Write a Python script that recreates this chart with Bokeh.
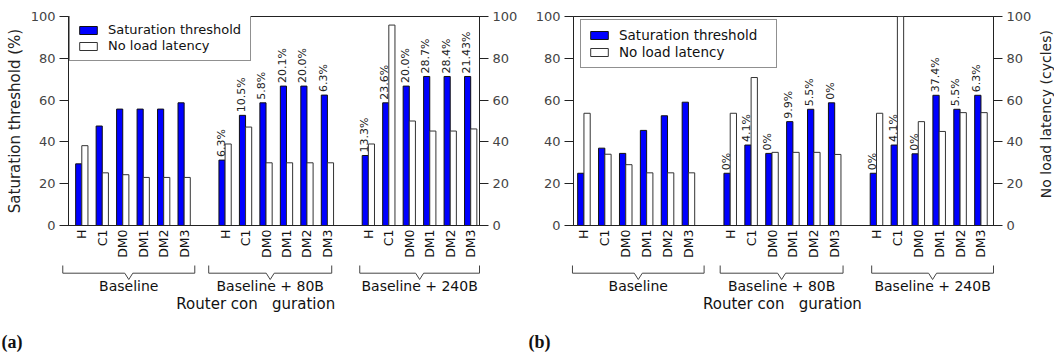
import math
from bokeh.plotting import figure
from bokeh.models import (ColumnDataSource, Range1d, LinearAxis, FixedTicker,
                          Legend, LegendItem)
from bokeh.layouts import row, column
from bokeh.transform import dodge
from bokeh.core.properties import value
from bokeh.embed import file_html
from bokeh.resources import INLINE

# ---------------- data ----------------
configs = ["H", "C1", "DM0", "DM1", "DM2", "DM3"]
groups = ["Baseline", "Baseline + 80B", "Baseline + 240B"]
y_ticks = [0, 20, 40, 60, 80, 100]
series_names = ["Saturation threshold", "No load latency"]

# panel (a)
a_sat = [[29.5, 47.6, 55.7, 55.7, 55.7, 58.7],
         [31.3, 52.7, 58.7, 66.7, 66.7, 62.4],
         [33.5, 58.7, 66.7, 71.3, 71.3, 71.3]]
a_lat = [[38.2, 25.2, 24.3, 23.0, 23.0, 23.0],
         [39.0, 47.1, 30.0, 30.0, 30.0, 30.0],
         [39.0, 95.9, 50.0, 45.2, 45.2, 46.2]]
a_pct = [["", "", "", "", "", ""],
         ["6.3%", "10.5%", "5.8%", "20.1%", "20.0%", "6.3%"],
         ["13.3%", "23.6%", "20.0%", "28.7%", "28.4%", "21.43%"]]

# panel (b)
b_sat = [[25.0, 37.0, 34.5, 45.5, 52.5, 59.0],
         [25.0, 38.5, 34.5, 49.7, 55.6, 58.7],
         [25.0, 38.5, 34.3, 62.3, 55.6, 62.3]]
b_lat = [[53.7, 34.1, 29.1, 25.2, 25.2, 25.2],
         [53.7, 70.8, 35.0, 35.0, 35.0, 34.0],
         [53.7, 100.0, 49.7, 45.0, 54.0, 54.0]]
b_pct = [["", "", "", "", "", ""],
         ["0%", "4.1%", "0%", "9.9%", "5.5%", "0%"],
         ["0%", "4.1%", "0%", "37.4%", "5.5%", "6.3%"]]

left_title = "Saturation threshold (%)"
right_title = "No load latency (cycles)"
x_title = "Router con\u00a0\u00a0\u00a0guration"

# ---------------- layout ----------------
FONT = "DejaVu Sans"
H = 355
W = 527
TOP_H = 260
TITLE_W = 20


def style_y_axis(ax):
    ax.ticker = FixedTicker(ticks=y_ticks)
    ax.major_tick_out = 9
    ax.major_tick_in = 0
    ax.minor_tick_line_color = None
    ax.major_tick_line_color = "#222"
    ax.axis_line_color = "#222"
    ax.major_label_standoff = 4
    ax.major_label_text_font = FONT
    ax.major_label_text_font_size = "13px"
    ax.major_label_text_color = "#444"
    ax.axis_label_text_font = FONT
    ax.axis_label_text_font_size = "15px"
    ax.axis_label_text_font_style = "normal"
    ax.axis_label_text_color = "#222"
    ax.axis_label_standoff = 4


def panel(sat, lat, pct, letter, top_w, b_left, b_right, b_right_low, b_bottom, xr,
          ltitle, legend_xy, legend_lw, legend_fs, title_x, brace_off):
    b_top = 16
    frame_w = top_w - b_left - b_right
    ppx = frame_w / (xr[1] - xr[0])

    n = len(configs)
    pos, sv, lv, pv = [], [], [], []
    for g in range(len(groups)):
        for i in range(n):
            pos.append(g * (n + 1) + i + 0.5)
            sv.append(sat[g][i])
            lv.append(lat[g][i])
            pv.append(pct[g][i])
    src = ColumnDataSource(dict(pos=pos, sat=sv, lat=lv, pct=pv))

    p = figure(width=top_w, height=TOP_H, x_range=Range1d(*xr), y_range=Range1d(0, 100),
               output_backend="svg", toolbar_location=None,
               min_border_left=b_left, min_border_right=b_right,
               min_border_top=b_top, min_border_bottom=b_bottom)
    p.extra_y_ranges = {"lat": Range1d(0, 100)}
    p.grid.visible = False
    p.outline_line_color = "#222"
    p.background_fill_color = "white"
    p.border_fill_color = "white"

    # x axis (categories)
    xa = p.xaxis[0]
    xa.ticker = FixedTicker(ticks=pos)
    xa.major_label_overrides = {pos[g * n + i]: configs[i]
                                for g in range(len(groups)) for i in range(n)}
    xa.major_label_orientation = math.pi / 2
    xa.major_tick_in = 0
    xa.major_tick_out = 0
    xa.minor_tick_line_color = None
    xa.major_label_standoff = 4
    xa.axis_line_color = "#222"
    xa.major_label_text_font = FONT
    xa.major_label_text_font_size = "12.5px"
    xa.major_label_text_color = "#111"

    # y axes
    ya = p.yaxis[0]
    style_y_axis(ya)
    if ltitle:
        ya.axis_label = ltitle
    ra = LinearAxis(y_range_name="lat")
    style_y_axis(ra)
    p.add_layout(ra, "right")

    r1 = p.vbar(x=dodge("pos", -0.15, range=p.x_range), top="sat", width=0.3,
                source=src, fill_color="#0000ff", line_color="#111", line_width=1)
    r2 = p.vbar(x=dodge("pos", 0.15, range=p.x_range), top="lat", width=0.3,
                source=src, fill_color="white", line_color="#333", line_width=1,
                y_range_name="lat")
    p.text(x=dodge("pos", -0.15, range=p.x_range), y="sat", text="pct", source=src,
           angle=math.pi / 2, text_align="left", text_baseline="middle",
           x_offset=-1, y_offset=-3, text_font=value(FONT), text_font_size="11px",
           text_color="#222")

    legend = Legend(items=[LegendItem(label=series_names[0], renderers=[r1]),
                           LegendItem(label=series_names[1], renderers=[r2])],
                    location=legend_xy)
    legend.label_text_font = FONT
    legend.label_text_font_size = legend_fs
    legend.label_text_color = "#111"
    legend.border_line_color = "#222"
    legend.border_line_width = 1
    legend.padding = 7
    legend.spacing = 1
    legend.label_height = 14
    legend.label_width = legend_lw
    legend.glyph_height = 10
    legend.glyph_width = 22
    legend.label_standoff = 9
    legend.margin = 0
    legend.background_fill_alpha = 1
    p.add_layout(legend)

    # ---- lower strip: group braces, group names, axis title, panel letter ----
    bx0 = xr[0] - b_left / ppx
    bx1 = xr[1] + b_right_low / ppx
    q = figure(width=W, height=H - TOP_H, x_range=Range1d(bx0, bx1),
               y_range=Range1d(H, TOP_H), output_backend="svg",
               toolbar_location=None, x_axis_location=None, y_axis_location=None,
               min_border_left=0, min_border_right=0, min_border_top=0,
               min_border_bottom=0)
    q.grid.visible = False
    q.outline_line_color = None
    q.background_fill_color = "white"
    q.border_fill_color = "white"

    y_top, y_base, y_notch = 265, 272.7, 279
    dx = 4.0 / ppx
    bxs, bys, mids = [], [], []
    for g in range(len(groups)):
        x0 = pos[g * n] + brace_off[g][0]
        x1 = pos[g * n + n - 1] + brace_off[g][1]
        xm = (x0 + x1) / 2
        mids.append(xm)
        bxs.append([x0, x0, xm - dx, xm, xm + dx, x1, x1])
        bys.append([y_top, y_base, y_base, y_notch, y_base, y_base, y_top])
    q.multi_line(xs=bxs, ys=bys, line_color="#444", line_width=1)
    q.text(x=mids, y=[285] * len(groups), text=groups, text_align="center",
           text_baseline="middle", text_font=value(FONT), text_font_size="14px",
           text_color="#111")
    q.text(x=[title_x], y=[303], text=[x_title], text_align="center",
           text_baseline="middle", text_font=value(FONT), text_font_size="15px",
           text_color="#111")
    q.text(x=[bx0 + 1 / ppx], y=[341], text=[letter], text_align="left",
           text_baseline="middle", text_font=value("Liberation Serif"),
           text_font_style="bold", text_font_size="18px", text_color="#111")
    return p, q


pa, qa = panel(a_sat, a_lat, a_pct, "(a)", W, 68, 48, 48, TOP_H - 226, (-0.15, 19.93),
               left_title, (1, 164), 135, "13px", 9.0,
               [(-0.93, 0.52), (-0.80, 0.21), (-0.42, 0.43)])
pb, qb = panel(b_sat, b_lat, b_pct, "(b)", W - TITLE_W, 46, 61 - TITLE_W, 61,
               TOP_H - 227, (0.0, 20.1),
               None, (7, 157), 150, "13.5px", 10.0,
               [(-0.55, 0.75), (-0.48, 0.40), (-0.23, 0.60)])

# strip holding the right-hand axis title of panel (b), read bottom to top
t = figure(width=TITLE_W, height=TOP_H, x_range=Range1d(0, TITLE_W),
           y_range=Range1d(TOP_H, 0), output_backend="svg", toolbar_location=None,
           x_axis_location=None, y_axis_location=None, min_border_left=0,
           min_border_right=0, min_border_top=0, min_border_bottom=0)
t.grid.visible = False
t.outline_line_color = None
t.background_fill_color = "white"
t.border_fill_color = "white"
t.text(x=[11], y=[121.5], text=[right_title], angle=math.pi / 2,
       text_align="center", text_baseline="middle", text_font=value(FONT),
       text_font_size="14px", text_color="#222")

layout = column(row(pa, pb, t, spacing=0), row(qa, qb, spacing=0), spacing=0)
open("out.html", "w").write(file_html(layout, INLINE))
